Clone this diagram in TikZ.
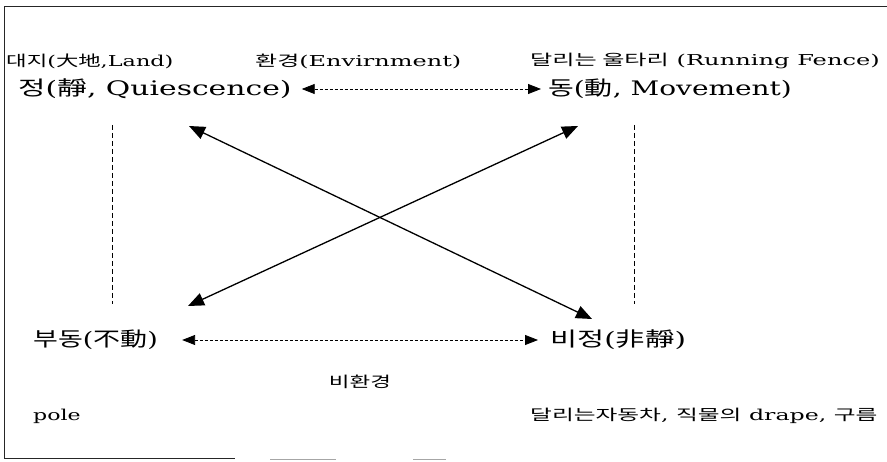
\documentclass[tikz,border=0pt]{standalone}
\usepackage{graphicx}
\usepackage{fontspec}
\setmainfont{DejaVu Serif}
\newfontfamily\kr{Noto Sans CJK KR}
\newcommand{\sx}[2]{\scalebox{#1}[1]{#2}}
\usetikzlibrary{arrows.meta}
\tikzset{
  x=1pt, y=-1pt,
  lbl/.style={inner sep=0pt, anchor=west, text=black},
  small/.style={lbl, font=\fontsize{15}{18}\selectfont},
  big/.style={lbl, font=\fontsize{20}{24}\selectfont},
  frame/.style={line width=1pt, black!85},
  faint/.style={line width=0.8pt, black!35},
  solidarrow/.style={line width=1.3pt, {Triangle[length=16pt,width=13pt]}-{Triangle[length=16pt,width=13pt]}},
  dasharrow/.style={line width=0.8pt, dash pattern=on 3pt off 2pt, {Triangle[length=13pt,width=10pt]}-{Triangle[length=13pt,width=10pt]}},
  vdash/.style={line width=0.9pt, dash pattern=on 5pt off 3pt},
}
\begin{document}
\begin{tikzpicture}
\useasboundingbox (0,0) rectangle (887,462);
% frame
\draw[frame] (887,7) -- (4,7) -- (4,459) -- (235,459);
\draw[faint] (270,459) -- (336,459);
\draw[faint] (413,459) -- (446,459);
% top labels
\node[small] (land) at (6,61) {\sx{1.49}{{\kr 대지}({\kr 大地},Land)}};
\node[small] (env) at (255,61) {\sx{1.6}{{\kr 환경}(Envirnment)}};
\node[small] (fence) at (530,61) {\sx{1.61}{{\kr 달리는 울타리} (Running Fence)}};
% main labels
\node[big] (q) at (18,89) {\sx{1.49}{{\kr 정}({\kr 靜}, Quiescence)}};
\node[big] (m) at (548,89) {\sx{1.4}{{\kr 동}({\kr 動}, Movement)}};
\node[big] (bd) at (33,340) {\sx{1.35}{{\kr 부동}({\kr 不動})}};
\node[big] (bj) at (550,340) {\sx{1.47}{{\kr 비정}({\kr 非靜})}};
\node[small, anchor=center] (nenv) at (360,382) {\sx{1.5}{\kr 비환경}};
\node[small] (pole) at (33,416) {\sx{1.47}{pole}};
\node[small] (car) at (530,416) {\sx{1.58}{{\kr 달리는자동차}, {\kr 직물의} drape, {\kr 구름}}};
% coordinates
\coordinate (qtip) at (189,126);
\coordinate (mtip) at (578,126);
\coordinate (bdtip) at (188,306);
\coordinate (bjtip) at (592,319);
\coordinate (lv1) at (112,125);
\coordinate (lv2) at (112,304);
\coordinate (rv1) at (634,125);
\coordinate (rv2) at (634,304);
% connectors
\draw[dasharrow] ([xshift=10pt]q.east) -- ([xshift=-7pt]m.west);
\draw[dasharrow] ([xshift=24pt]bd.east) -- ([xshift=-12pt]bj.west);
\draw[solidarrow] (qtip) -- (bjtip);
\draw[solidarrow] (mtip) -- (bdtip);
\draw[vdash] (lv1) -- (lv2);
\draw[vdash] (rv1) -- (rv2);
\end{tikzpicture}
\end{document}
